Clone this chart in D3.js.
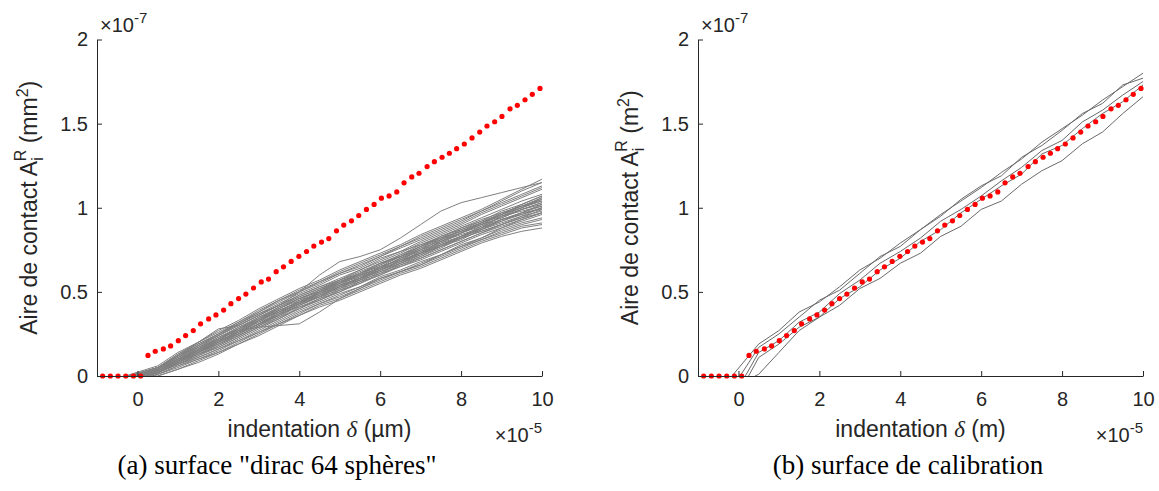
<!DOCTYPE html>
<html><head><meta charset="utf-8">
<script src="https://cdn.jsdelivr.net/npm/d3@7"></script>
<style>body{margin:0;background:#fff}</style>
</head><body>
<svg id="chart" width="1159" height="491" xmlns="http://www.w3.org/2000/svg"></svg>
<script>
// ---- data (x in 1e-5, y in 1e-7) ----
const xTicks = [0, 2, 4, 6, 8, 10];
const yTicks = [0, 0.5, 1, 1.5, 2];
const xDomain = [-1, 10];
const yDomain = [0, 2];

// reference curve (red dots), same in both panels
const refX = [-0.86,-0.67,-0.48,-0.29,-0.10,0.08,0.26,0.44,0.64,0.82,1.01,1.19,1.38,1.56,1.76,1.94,2.13,2.31,2.50,2.68,2.87,3.06,3.24,3.43,3.61,3.80,3.99,4.18,4.36,4.55,4.73,4.92,5.10,5.29,5.47,5.66,5.85,6.03,6.22,6.41,6.59,6.78,6.96,7.16,7.34,7.53,7.71,7.89,8.08,8.27,8.46,8.64,8.83,9.01,9.21,9.39,9.58,9.76,9.95];
const refY = [0,0,0,0,0,0,0.122,0.147,0.161,0.179,0.21,0.24,0.27,0.31,0.339,0.363,0.392,0.43,0.46,0.487,0.523,0.559,0.576,0.62,0.649,0.681,0.711,0.74,0.772,0.796,0.817,0.863,0.897,0.922,0.954,0.99,1.02,1.057,1.07,1.094,1.148,1.183,1.205,1.245,1.274,1.3,1.324,1.351,1.379,1.415,1.45,1.486,1.511,1.543,1.588,1.609,1.642,1.674,1.709];

// common abscissae of the grey curves
const gridX = [0.5,1,1.5,2,2.5,3,3.5,4,4.5,5,5.5,6,6.5,7,7.5,8,8.5,9,9.5,10];

// panel (a): dirac 64 spheres
const diracStarts = [-0.3,0.5,-0.1,0.2,0.0,0.1,-0.2,0.4,0.05,-0.2,0.1,-0.05,0.25,-0.15,0.3,0.0,0.1,-0.1,0.2,-0.25,0.45,-0.2,0.35,0.2,-0.2,0.0,0.15,-0.1,0.2,0.05,0.25,-0.05,0.05,0.15,-0.05,0.1];
const diracLines = [
 [0.06,0.14,0.2,0.27,0.33,0.40,0.46,0.52,0.57,0.63,0.68,0.73,0.78,0.84,0.89,0.94,0.99,1.05,1.11,1.17],
 [0.0,0.04,0.08,0.13,0.19,0.24,0.30,0.36,0.41,0.45,0.50,0.55,0.60,0.64,0.69,0.74,0.79,0.83,0.86,0.88],
 [0.04,0.12,0.17,0.24,0.30,0.36,0.42,0.48,0.53,0.58,0.63,0.68,0.73,0.79,0.84,0.89,0.94,0.99,1.04,1.08],
 [0.02,0.07,0.11,0.16,0.22,0.28,0.34,0.40,0.45,0.50,0.55,0.60,0.65,0.69,0.74,0.79,0.84,0.88,0.92,0.96],
 [0.03,0.10,0.16,0.21,0.28,0.33,0.40,0.45,0.51,0.55,0.61,0.65,0.71,0.75,0.81,0.85,0.91,0.95,1.00,1.04],
 [0.03,0.08,0.14,0.19,0.25,0.31,0.36,0.43,0.47,0.53,0.57,0.63,0.67,0.73,0.77,0.83,0.87,0.93,0.96,1.00],
 [0.05,0.13,0.19,0.25,0.32,0.38,0.45,0.50,0.56,0.61,0.66,0.71,0.77,0.82,0.87,0.92,0.98,1.03,1.08,1.13],
 [0.01,0.05,0.10,0.14,0.20,0.26,0.31,0.37,0.43,0.47,0.52,0.57,0.62,0.66,0.71,0.76,0.81,0.85,0.89,0.91],
 [0.03,0.09,0.15,0.20,0.25,0.33,0.38,0.43,0.50,0.54,0.58,0.65,0.69,0.73,0.80,0.84,0.88,0.95,0.98,1.01],
 [0.05,0.12,0.20,0.28,0.30,0.36,0.42,0.50,0.60,0.68,0.71,0.75,0.82,0.90,0.98,1.03,1.06,1.09,1.12,1.15],
 [0.02,0.08,0.14,0.20,0.27,0.29,0.30,0.31,0.38,0.46,0.52,0.58,0.62,0.66,0.72,0.77,0.82,0.88,0.93,0.97],
 [0.04,0.11,0.17,0.23,0.29,0.35,0.41,0.47,0.52,0.57,0.62,0.67,0.72,0.78,0.82,0.88,0.92,0.98,1.02,1.07],
 [0.02,0.07,0.12,0.17,0.23,0.29,0.35,0.40,0.46,0.50,0.56,0.60,0.66,0.70,0.75,0.80,0.85,0.89,0.93,0.97],
 [0.04,0.12,0.18,0.24,0.31,0.37,0.43,0.49,0.54,0.60,0.64,0.70,0.74,0.80,0.85,0.90,0.96,1.01,1.06,1.11],
 [0.01,0.06,0.11,0.16,0.21,0.27,0.33,0.39,0.44,0.49,0.53,0.59,0.63,0.68,0.72,0.78,0.82,0.87,0.91,0.94],
 [0.03,0.10,0.15,0.21,0.26,0.33,0.38,0.45,0.49,0.55,0.59,0.65,0.69,0.75,0.79,0.85,0.89,0.95,0.99,1.03],
 [0.03,0.09,0.14,0.20,0.26,0.31,0.38,0.43,0.49,0.53,0.59,0.63,0.69,0.73,0.79,0.83,0.89,0.93,0.97,1.01],
 [0.04,0.10,0.16,0.22,0.28,0.34,0.40,0.46,0.51,0.57,0.61,0.67,0.71,0.77,0.81,0.87,0.91,0.97,1.01,1.06],
 [0.02,0.08,0.13,0.18,0.24,0.30,0.35,0.42,0.47,0.51,0.57,0.61,0.67,0.71,0.77,0.81,0.87,0.91,0.95,0.98],
 [0.05,0.13,0.20,0.26,0.32,0.39,0.45,0.51,0.56,0.62,0.67,0.72,0.77,0.83,0.88,0.93,0.98,1.04,1.10,1.15],
 [0.0,0.04,0.09,0.14,0.19,0.25,0.31,0.36,0.42,0.46,0.51,0.56,0.61,0.65,0.70,0.75,0.80,0.84,0.88,0.90],
 [0.05,0.12,0.19,0.25,0.31,0.38,0.44,0.50,0.55,0.61,0.65,0.71,0.76,0.81,0.86,0.91,0.97,1.02,1.07,1.12],
 [0.01,0.06,0.10,0.15,0.21,0.26,0.32,0.38,0.43,0.48,0.53,0.58,0.62,0.67,0.72,0.77,0.81,0.86,0.90,0.93],
 [0.02,0.07,0.12,0.18,0.24,0.30,0.36,0.42,0.47,0.53,0.58,0.64,0.70,0.75,0.81,0.86,0.91,0.96,1.02,1.07],
 [0.05,0.12,0.18,0.24,0.30,0.36,0.42,0.47,0.52,0.56,0.60,0.64,0.68,0.73,0.78,0.82,0.86,0.90,0.94,0.97],
 [0.03,0.09,0.16,0.22,0.27,0.33,0.39,0.44,0.50,0.55,0.60,0.64,0.70,0.76,0.80,0.85,0.90,0.96,1.00,1.05],
 [0.02,0.08,0.13,0.19,0.25,0.31,0.37,0.41,0.46,0.52,0.56,0.62,0.66,0.71,0.76,0.82,0.86,0.90,0.94,0.99],
 [0.04,0.11,0.18,0.25,0.31,0.37,0.42,0.48,0.53,0.57,0.63,0.69,0.74,0.78,0.83,0.87,0.92,0.96,1.01,1.04],
 [0.02,0.08,0.14,0.19,0.24,0.30,0.37,0.43,0.48,0.52,0.58,0.62,0.67,0.72,0.78,0.83,0.88,0.92,0.96,1.00],
 [0.03,0.10,0.15,0.22,0.27,0.34,0.39,0.44,0.50,0.56,0.60,0.66,0.71,0.76,0.82,0.86,0.90,0.94,0.99,1.03],
 [0.02,0.07,0.13,0.17,0.23,0.29,0.34,0.41,0.45,0.51,0.55,0.61,0.65,0.70,0.75,0.80,0.85,0.90,0.95,1.00],
 [0.04,0.11,0.16,0.23,0.28,0.35,0.40,0.46,0.51,0.56,0.61,0.66,0.72,0.77,0.83,0.88,0.93,0.97,1.01,1.05],
 [0.03,0.09,0.14,0.20,0.27,0.32,0.39,0.44,0.48,0.54,0.58,0.63,0.68,0.74,0.78,0.83,0.87,0.92,0.97,1.02],
 [0.02,0.08,0.14,0.21,0.25,0.31,0.36,0.42,0.48,0.53,0.57,0.63,0.68,0.72,0.77,0.82,0.88,0.93,0.97,0.99],
 [0.04,0.10,0.17,0.22,0.29,0.34,0.41,0.46,0.50,0.56,0.61,0.67,0.71,0.77,0.82,0.86,0.91,0.96,1.00,1.06],
 [0.03,0.09,0.15,0.21,0.26,0.32,0.37,0.44,0.49,0.54,0.60,0.64,0.70,0.74,0.80,0.85,0.90,0.94,0.99,1.02]
];

// panel (b): calibration surface
const calibStarts = [-0.16, 0.04, 0.17, 0.25, 0.41];
const calibLines = [
 [0.19,0.27,0.38,0.44,0.53,0.63,0.70,0.79,0.87,0.96,1.04,1.12,1.21,1.29,1.39,1.47,1.55,1.64,1.72,1.80],
 [0.17,0.25,0.35,0.45,0.51,0.61,0.71,0.77,0.87,0.95,1.05,1.13,1.19,1.30,1.37,1.46,1.56,1.62,1.73,1.77],
 [0.14,0.21,0.32,0.38,0.49,0.57,0.67,0.74,0.82,0.92,0.99,1.07,1.16,1.24,1.34,1.40,1.51,1.58,1.67,1.75],
 [0.11,0.19,0.29,0.35,0.46,0.53,0.63,0.70,0.80,0.87,0.97,1.05,1.13,1.20,1.32,1.37,1.47,1.56,1.63,1.73],
 [0.01,0.14,0.27,0.35,0.42,0.52,0.58,0.67,0.73,0.83,0.89,0.99,1.04,1.14,1.22,1.28,1.38,1.45,1.56,1.66]
];

const panels = [
  { x0: 97, x1: 542, starts: diracStarts, lines: diracLines, grey: "#808080",
    yUnit: "mm", xUnit: "µm", labelX: 37, caption: '(a) surface "dirac 64 sphères"', capX: 277 },
  { x0: 698, x1: 1143, starts: calibStarts, lines: calibLines, grey: "#6a6a6a",
    yUnit: "m", xUnit: "m", labelX: 638, caption: "(b) surface de calibration", capX: 908 }
];

const svg = d3.select("#chart");
const axisColor = "#262626";
const sans = "'Liberation Sans', Arial, Helvetica, sans-serif";
const serif = "'Liberation Serif', 'Times New Roman', serif";
const yTop = 39.5, yBot = 376;

panels.forEach(p => {
  const x = d3.scaleLinear().domain(xDomain).range([p.x0, p.x1]);
  const y = d3.scaleLinear().domain(yDomain).range([yBot, yTop]);
  const g = svg.append("g");

  const line = d3.line().x(d => x(d[0])).y(d => y(d[1]));
  p.lines.forEach((vals, i) => {
    const s = p.starts[i];
    const pts = [[s, 0]];
    gridX.forEach((gx, j) => { if (gx > s) pts.push([gx, vals[j]]); });
    g.append("path").attr("d", line(pts)).attr("fill", "none")
      .attr("stroke", p.grey).attr("stroke-width", 1);
  });

  g.selectAll("circle.ref").data(refX.map((v, i) => [v, refY[i]])).enter()
    .append("circle").attr("class", "ref")
    .attr("cx", d => x(d[0])).attr("cy", d => y(d[1])).attr("r", 2.6)
    .attr("fill", "#ff0000");

  // axes
  const ax = g.append("g").attr("transform", `translate(0,${yBot})`)
    .call(d3.axisBottom(x).tickValues(xTicks).tickFormat(d3.format("d"))
      .tickSizeInner(-5).tickSizeOuter(0).tickPadding(16));
  const ay = g.append("g").attr("transform", `translate(${p.x0},0)`)
    .call(d3.axisLeft(y).tickValues(yTicks).tickFormat(d => String(d))
      .tickSizeInner(-5).tickSizeOuter(0).tickPadding(9));
  [ax, ay].forEach(a => {
    a.select(".domain").attr("stroke", axisColor).attr("stroke-width", 1);
    a.selectAll(".tick line").attr("stroke", axisColor);
    a.selectAll(".tick text").attr("fill", axisColor)
      .style("font-family", sans).style("font-size", "20px");
  });

  // exponent labels
  const e7 = g.append("text").attr("x", p.x0 + 3).attr("y", 32)
    .attr("fill", axisColor).style("font-family", sans).style("font-size", "20px");
  e7.append("tspan").text("×10");
  e7.append("tspan").attr("dy", -9).style("font-size", "15px").text("-7");

  const e5 = g.append("text").attr("x", p.x1).attr("y", 442).attr("text-anchor", "end")
    .attr("fill", axisColor).style("font-family", sans).style("font-size", "20px");
  e5.append("tspan").text("×10");
  e5.append("tspan").attr("dy", -9).style("font-size", "15px").text("-5");

  // axis titles
  const xl = g.append("text").attr("x", (p.x0 + p.x1) / 2).attr("y", 437)
    .attr("text-anchor", "middle").attr("fill", axisColor)
    .style("font-family", sans).style("font-size", "23px");
  xl.append("tspan").text("indentation ");
  xl.append("tspan").style("font-family", serif).style("font-style", "italic").text("δ");
  xl.append("tspan").text(` (${p.xUnit})`);

  const yl = g.append("text")
    .attr("transform", `translate(${p.labelX},${(yTop + yBot) / 2}) rotate(-90)`)
    .attr("text-anchor", "middle").attr("fill", axisColor)
    .style("font-family", sans).style("font-size", "23px");
  yl.append("tspan").text("Aire de contact A");
  yl.append("tspan").attr("dy", 6).style("font-size", "16px").text("i");
  yl.append("tspan").attr("dx", -4).attr("dy", -17).style("font-size", "16px").text("R");
  yl.append("tspan").attr("dy", 11).text(` (${p.yUnit}`);
  yl.append("tspan").attr("dy", -9).style("font-size", "16px").text("2");
  yl.append("tspan").attr("dy", 9).text(")");

  // caption
  svg.append("text").attr("x", p.capX).attr("y", 474).attr("text-anchor", "middle")
    .attr("fill", "#000").style("font-family", serif).style("font-size", "27px")
    .text(p.caption);
});
</script>
</body></html>
